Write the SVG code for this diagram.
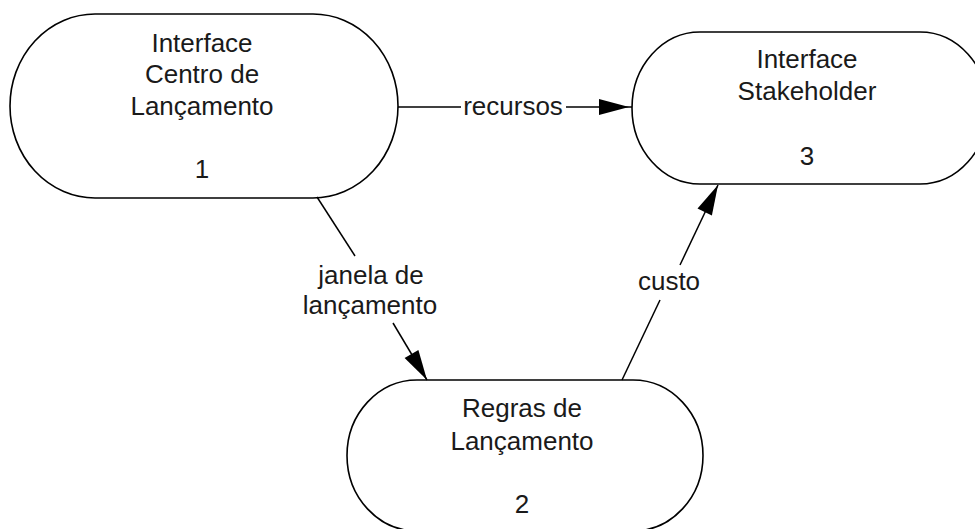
<svg xmlns="http://www.w3.org/2000/svg" width="975" height="529" viewBox="0 0 975 529">
<style>
.n{fill:#fff;stroke:#000;stroke-width:1.6}
.t{font-family:"Liberation Sans",Arial,sans-serif;font-size:26px;fill:#1a1a1a;text-anchor:middle}
.c{stroke:#000;stroke-width:1.5;fill:none}
.h{fill:#000;stroke:none}
</style>
<rect width="975" height="529" fill="#fff"/>
<g id="node1">
<rect class="n" x="10" y="14" width="388" height="184" rx="85" ry="92"/>
<text class="t" x="202" y="52">Interface</text>
<text class="t" x="202" y="83">Centro de</text>
<text class="t" x="202" y="115">Lançamento</text>
<text class="t" x="202" y="178">1</text>
</g>
<g id="node3">
<rect class="n" x="632" y="32" width="356" height="152" rx="68" ry="76"/>
<text class="t" x="807" y="68">Interface</text>
<text class="t" x="807" y="100">Stakeholder</text>
<text class="t" x="807" y="165">3</text>
</g>
<g id="node2">
<rect class="n" x="347" y="380" width="356" height="151" rx="70" ry="75.5"/>
<text class="t" x="522" y="417">Regras de</text>
<text class="t" x="522" y="450">Lançamento</text>
<text class="t" x="522" y="513">2</text>
</g>
<g id="connectors">
<line class="c" x1="398" y1="107" x2="461" y2="107"/>
<line class="c" x1="566" y1="107" x2="632" y2="107"/>
<polygon class="h" points="599,99 629,107 599,115"/>
<text class="t" x="513" y="115">recursos</text>
<line class="c" x1="317" y1="197" x2="355" y2="256"/>
<line class="c" x1="393" y1="323" x2="427" y2="380"/>
<polygon class="h" points="404.6,358.1 427,380 418.4,349.9"/>
<text class="t" x="371" y="284">janela de</text>
<text class="t" x="370" y="314">lançamento</text>
<line class="c" x1="622" y1="380" x2="660" y2="300"/>
<line class="c" x1="680" y1="265" x2="718" y2="185"/>
<polygon class="h" points="697.5,208.4 718,185 711.9,215.4"/>
<text class="t" x="669" y="290">custo</text>
</g>
</svg>
